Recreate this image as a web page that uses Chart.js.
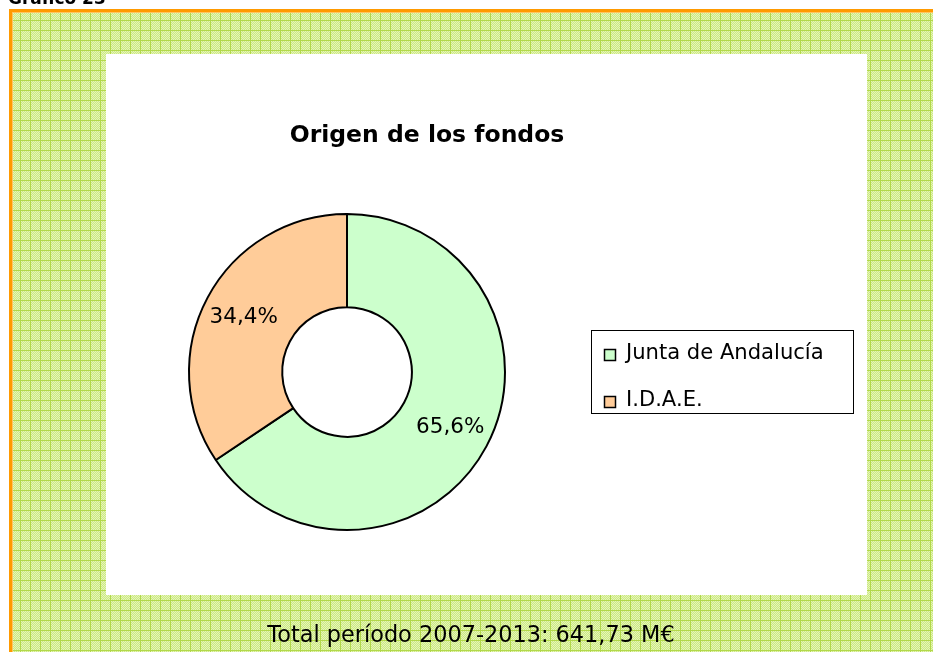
<!DOCTYPE html>
<html><head><meta charset="utf-8">
<script src="https://cdn.jsdelivr.net/npm/chart.js@4"></script>
<style>html,body{margin:0;padding:0;background:#fff}canvas{display:block}</style>
</head><body>
<canvas id="c" width="933" height="652" style="width:933px;height:652px"></canvas>
<script>
const categories = ["Junta de Andalucía", "I.D.A.E."];
const shares = [65.6, 34.4];
const labelsText = ["65,6%", "34,4%"];
const colors = ["#ccffcc", "#ffcc99"];
const chartTitle = "Origen de los fondos";
const footerText = "Total período 2007-2013: 641,73 M€";
const headerText = "Gráfico 23";

const FONT = "'DejaVu Sans', Verdana, sans-serif";

function makePattern(ctx){
  const p = document.createElement('canvas'); p.width = 10; p.height = 10;
  const g = p.getContext('2d');
  g.fillStyle = '#cbe985'; g.fillRect(0,0,10,10);
  for (let y=0;y<10;y++) for (let x=0;x<10;x++){
    if ((x+y)%2===0){ g.fillStyle = '#e6f5b6'; g.fillRect(x,y,1,1); }
  }
  g.fillStyle = '#b2d84a'; g.fillRect(0,0,10,1); g.fillRect(0,0,1,10);
  return ctx.createPattern(p,'repeat');
}

const bgPlugin = {
  id:'bg',
  beforeDraw(chart){
    const ctx = chart.ctx;
    ctx.save();
    ctx.fillStyle = '#fff'; ctx.fillRect(0,0,933,652);
    ctx.fillStyle = makePattern(ctx);
    ctx.fillRect(11,11,922,641);
    ctx.fillStyle = '#ff9a00';
    ctx.fillRect(9,9,924,3); ctx.fillRect(9,9,3,643);
    ctx.fillStyle = '#ffc560';
    ctx.fillRect(12,12,921,1); ctx.fillRect(12,12,1,640);
    ctx.fillStyle = '#fff';
    ctx.fillRect(106,54,761,541);
    ctx.fillStyle = '#000';
    ctx.font = "bold 17px " + FONT;
    ctx.textBaseline = 'alphabetic'; ctx.textAlign = 'left';
    ctx.fillText(headerText, 8, 4);
    ctx.font = "bold 23.5px " + FONT;
    ctx.textAlign = 'center'; ctx.textBaseline = 'middle';
    ctx.fillText(chartTitle, 427, 136);
    ctx.font = "22.4px " + FONT;
    ctx.fillText(footerText, 471, 636);
    ctx.restore();
  },
  afterDraw(chart){
    const ctx = chart.ctx;
    ctx.save();
    const meta = chart.getDatasetMeta(0);
    ctx.font = "21.5px " + FONT; ctx.fillStyle = '#000';
    ctx.textAlign = 'center'; ctx.textBaseline = 'middle';
    meta.data.forEach((arc, i) => {
      const mid = (arc.startAngle + arc.endAngle)/2;
      const r = 117;
      ctx.fillText(labelsText[i], arc.x + Math.cos(mid)*r, arc.y + Math.sin(mid)*r);
    });
    // legend
    ctx.strokeStyle = '#000'; ctx.lineWidth = 1;
    ctx.strokeRect(591.5, 330.5, 262, 83);
    categories.forEach((c, i) => {
      const y = 355 + i*47;
      ctx.fillStyle = colors[i];
      ctx.fillRect(604.5, y-5.5, 11, 11);
      ctx.lineWidth = 1.5;
      ctx.strokeRect(604.5, y-5.5, 11, 11);
      ctx.fillStyle = '#000'; ctx.textAlign = 'left';
      ctx.font = "21.1px " + FONT;
      ctx.fillText(c, 626, y - 1);
    });
    ctx.restore();
  }
};

new Chart(document.getElementById('c'), {
  type: 'doughnut',
  data: {
    labels: categories,
    datasets: [{
      data: shares,
      backgroundColor: colors,
      borderColor: '#000',
      borderWidth: 2,
      cutout: '41%'
    }]
  },
  options: {
    responsive: false,
    devicePixelRatio: 1,
    animation: false,
    layout: { padding: { left: 188, right: 427, top: 213, bottom: 121 } },
    plugins: { legend: { display: false }, tooltip: { enabled: false }, title: { display: false } }
  },
  plugins: [bgPlugin]
});
</script>
</body></html>
